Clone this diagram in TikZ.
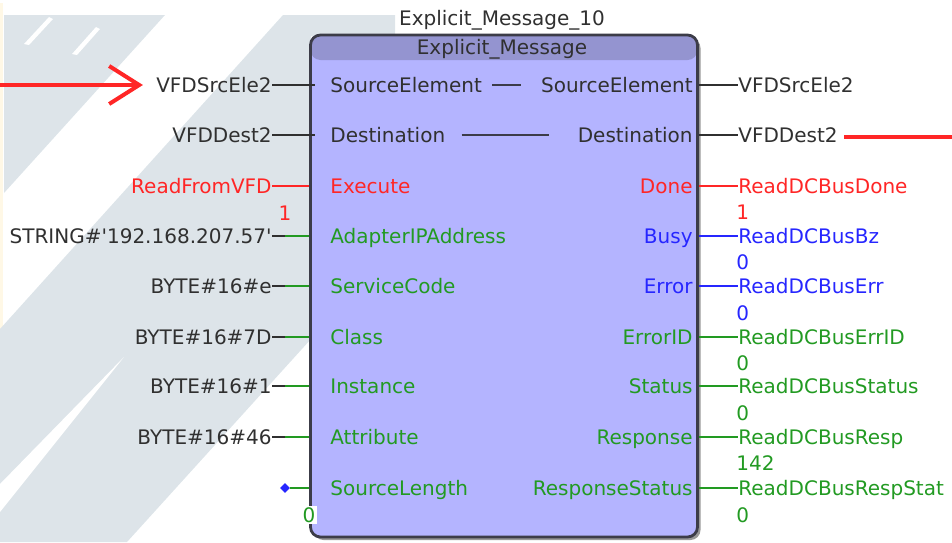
\documentclass[tikz,border=0pt]{standalone}
\usepackage{fontspec}
\setmainfont{DejaVu Sans}
\usetikzlibrary{arrows.meta,shapes.geometric,shadows}
\definecolor{fbfill}{HTML}{B4B4FF}
\definecolor{fbhead}{HTML}{9494D0}
\definecolor{fbedge}{HTML}{3C3C48}
\definecolor{sigred}{HTML}{FF2626}
\definecolor{siggreen}{HTML}{229A22}
\definecolor{sigblue}{HTML}{2626FF}
\definecolor{txtdark}{HTML}{303030}
\definecolor{wmgray}{HTML}{DDE4E9}
\definecolor{wmcream}{HTML}{FFF8E6}

\begin{document}
\begin{tikzpicture}[x=0.5pt,y=-0.5pt,font=\fontsize{10}{12}\selectfont,
    pin_txt/.style={inner sep=0pt,text height=7.3pt,text depth=0pt,text=txtdark},
    arg_in/.style={pin_txt,anchor=east},
    arg_out/.style={pin_txt,anchor=west},
    pin_in/.style={pin_txt,anchor=west},
    pin_out/.style={pin_txt,anchor=east},
    wire/.style={line width=0.75pt},
    red_arrow/.style={draw=sigred,line width=2pt,-{Straight Barb[length=15pt,width=19pt]}},
    red_line/.style={draw=sigred,line width=2pt},
    fb_box/.style={draw=fbedge,line width=1.4pt,fill=fbfill,rounded corners=5pt,
        minimum width=193.5pt,minimum height=251pt,inner sep=0pt,
        drop shadow={shadow xshift=1.5pt,shadow yshift=-1.5pt,fill=black,opacity=0.4},
        path picture={\fill[fbhead] (path picture bounding box.north west)
            rectangle ([yshift=-12.5pt]path picture bounding box.north east);}}]
    \useasboundingbox (0,0) rectangle (952,542);
    % watermark in the background
    \fill[wmcream] (0,3) rectangle (3,335);
    \fill[wmgray] (4,15) -- (165,15) -- (4,193) -- cycle;
    \fill[white] (24,44) -- (49,17) -- (53,19) -- (29,45) -- cycle;
    \fill[white] (72,54) -- (96,27) -- (100,29) -- (77,55) -- cycle;
    \fill[wmgray] (0,329) -- (283,15) -- (395,15) -- (395,36) -- (311,36) -- (311,339) -- (127,542) -- (0,542) -- cycle;
    \fill[white] (0,484) -- (124,357) -- (0,512) -- cycle;

    % function block
    \node[fb_box] (fb) at (504,286) {};
    \node[pin_txt] (title) at (502,18) {Explicit\_Message\_10};
    \node[pin_txt] (fbtype) at (502,47) {Explicit\_Message};

    \node[pin_in] (l1) at (330,85) {SourceElement};
    \node[pin_in] (l2) at (330,135) {Destination};
    \node[pin_in,text=sigred] (l3) at (330,186) {Execute};
    \node[pin_in,text=siggreen] (l4) at (330,236) {AdapterIPAddress};
    \node[pin_in,text=siggreen] (l5) at (330,286) {ServiceCode};
    \node[pin_in,text=siggreen] (l6) at (330,337) {Class};
    \node[pin_in,text=siggreen] (l7) at (330,386) {Instance};
    \node[pin_in,text=siggreen] (l8) at (330,437) {Attribute};
    \node[pin_in,text=siggreen] (l9) at (330,488) {SourceLength};

    \node[pin_out] (r1) at (693,85) {SourceElement};
    \node[pin_out] (r2) at (693,135) {Destination};
    \node[pin_out,text=sigred] (r3) at (693,186) {Done};
    \node[pin_out,text=sigblue] (r4) at (693,236) {Busy};
    \node[pin_out,text=sigblue] (r5) at (693,286) {Error};
    \node[pin_out,text=siggreen] (r6) at (693,337) {ErrorID};
    \node[pin_out,text=siggreen] (r7) at (693,386) {Status};
    \node[pin_out,text=siggreen] (r8) at (693,437) {Response};
    \node[pin_out,text=siggreen] (r9) at (693,488) {ResponseStatus};

    \draw[wire,fbedge,shorten <=5pt,shorten >=10pt] (l1) -- (r1);
    \draw[wire,fbedge,shorten <=8pt,shorten >=14pt] (l2) -- (r2);

    % inputs
    \node[arg_in] (a1) at (272,85) {VFDSrcEle2};
    \node[arg_in] (a2) at (272,135) {VFDDest2};
    \node[arg_in,text=sigred] (a3) at (272,186) {ReadFromVFD};
    \node[arg_in] (a4) at (272,236) {STRING\#\textquotesingle 192.168.207.57\textquotesingle};
    \node[arg_in] (a5) at (272,286) {BYTE\#16\#e};
    \node[arg_in] (a6) at (272,337) {BYTE\#16\#7D};
    \node[arg_in] (a7) at (272,386) {BYTE\#16\#1};
    \node[arg_in] (a8) at (272,437) {BYTE\#16\#46};
    \node[diamond,fill=sigblue,inner sep=0pt,minimum size=5pt] (a9) at (285,488) {};

    \draw[wire,txtdark] (a1.east) -- (a1.east -| fb.west) -- ++(6,0);
    \draw[wire,txtdark] (a2.east) -- (a2.east -| fb.west) -- ++(6,0);
    \draw[wire,sigred] (a3.east) -- (a3.east -| fb.west);
    \draw[wire,txtdark] (a4.east) -- ++(13,0) coordinate (a4w);
    \draw[wire,siggreen] (a4w) -- (a4w -| fb.west);
    \draw[wire,txtdark] (a5.east) -- ++(13,0) coordinate (a5w);
    \draw[wire,siggreen] (a5w) -- (a5w -| fb.west);
    \draw[wire,txtdark] (a6.east) -- ++(13,0) coordinate (a6w);
    \draw[wire,siggreen] (a6w) -- (a6w -| fb.west);
    \draw[wire,txtdark] (a7.east) -- ++(13,0) coordinate (a7w);
    \draw[wire,siggreen] (a7w) -- (a7w -| fb.west);
    \draw[wire,txtdark] (a8.east) -- ++(13,0) coordinate (a8w);
    \draw[wire,siggreen] (a8w) -- (a8w -| fb.west);
    \draw[wire,siggreen] (a9) -- (a9 -| fb.west);

    \node[pin_txt,text=sigred] (a3v) at (285,213) {1};
    \node[pin_txt,text=siggreen,fill=white,inner sep=1pt] (a9v) at (309,515) {0};

    % outputs
    \node[arg_out] (b1) at (738,85) {VFDSrcEle2};
    \node[arg_out] (b2) at (738,135) {VFDDest2};
    \node[arg_out,text=sigred] (b3) at (738,186) {ReadDCBusDone};
    \node[arg_out,text=sigblue] (b4) at (738,236) {ReadDCBusBz};
    \node[arg_out,text=sigblue] (b5) at (738,286) {ReadDCBusErr};
    \node[arg_out,text=siggreen] (b6) at (738,337) {ReadDCBusErrID};
    \node[arg_out,text=siggreen] (b7) at (738,386) {ReadDCBusStatus};
    \node[arg_out,text=siggreen] (b8) at (738,437) {ReadDCBusResp};
    \node[arg_out,text=siggreen] (b9) at (738,488) {ReadDCBusRespStat};

    \draw[wire,txtdark] (b1.west -| fb.east) -- (b1.west);
    \draw[wire,txtdark] (b2.west -| fb.east) -- (b2.west);
    \draw[wire,sigred] (b3.west -| fb.east) -- (b3.west);
    \draw[wire,sigblue] (b4.west -| fb.east) -- (b4.west);
    \draw[wire,sigblue] (b5.west -| fb.east) -- (b5.west);
    \draw[wire,siggreen] (b6.west -| fb.east) -- (b6.west);
    \draw[wire,siggreen] (b7.west -| fb.east) -- (b7.west);
    \draw[wire,siggreen] (b8.west -| fb.east) -- (b8.west);
    \draw[wire,siggreen] (b9.west -| fb.east) -- (b9.west);

    \node[arg_out,text=sigred] (b3v) at (736,212) {1};
    \node[arg_out,text=sigblue] (b4v) at (736,262) {0};
    \node[arg_out,text=sigblue] (b5v) at (736,313) {0};
    \node[arg_out,text=siggreen] (b6v) at (736,363) {0};
    \node[arg_out,text=siggreen] (b7v) at (736,413) {0};
    \node[arg_out,text=siggreen] (b8v) at (736,463) {142};
    \node[arg_out,text=siggreen] (b9v) at (736,515) {0};

    % red marks
    \coordinate (redtail) at (0,85);
    \coordinate (redhead) at (952,137);
    \draw[red_arrow] (redtail) -- ([xshift=-6.5pt]a1.west);
    \draw[red_line] (redhead -| b2.east) ++(6,0) -- (redhead);
\end{tikzpicture}
\end{document}
